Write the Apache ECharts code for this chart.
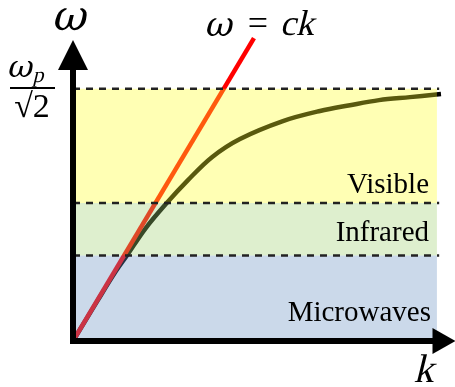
<!DOCTYPE html>
<html>
<head>
<meta charset="utf-8">
<script src="https://cdn.jsdelivr.net/npm/echarts@6/dist/echarts.min.js"></script>
<style>
  html, body { margin: 0; padding: 0; background: #fff; }
  #chart { width: 455px; height: 387px; }
</style>
</head>
<body>
<div id="chart"></div>
<script>
// Frequencies in units of ωp/√2, wavevector in units of ωp/(√2 c)
const bandNames = ['Microwaves', 'Infrared', 'Visible'];
const bandEdges = [0, 0.339, 0.547, 1.0];
const bandColors = ['rgba(106,146,195,0.35)', 'rgba(161,209,115,0.35)', 'rgba(255,255,41,0.35)'];
const bandEndK = 2.415;
const dashEndK = 2.43;

// Light line ω = ck
const lightK = [0, 1.201];

// Surface plasmon dispersion branch
const sppK = [0, 0.162, 0.285, 0.358, 0.478, 0.622, 0.763, 0.922, 1.108, 1.393, 1.639, 1.838, 2.031, 2.236, 2.442];
const sppW = [0, 0.159, 0.277, 0.339, 0.444, 0.547, 0.638, 0.729, 0.801, 0.872, 0.912, 0.935, 0.955, 0.967, 0.979];

const K_MAX = 2.462;
const W_MAX = 1.134;

const serif = '"Liberation Serif", "DejaVu Serif", serif';
const greek = '"DejaVu Serif", serif';

const chart = echarts.init(document.getElementById('chart'), null, { renderer: 'canvas' });

const bandData = bandNames.map((n, i) => [bandEdges[i], bandEdges[i + 1], i]);

const dashSeries = bandEdges.slice(1).map(w => ({
  type: 'line',
  z: 4,
  silent: true,
  symbol: 'none',
  data: [[0, w], [dashEndK, w]],
  lineStyle: { color: '#222', width: 2.5, type: [7, 6] }
}));

const axisLineStyle = { color: '#000', width: 6, cap: 'square' };

// Serif text; slanted symbols are sheared upright glyphs
function txt(text, x, y, size, slanted, align, family) {
  return {
    type: 'text', z: 20, x: x, y: y,
    skewX: slanted ? -0.24 : 0,
    style: {
      text: text, x: 0, y: 0,
      fontFamily: family || serif, fontSize: size,
      fill: '#000', textAlign: align || 'center', textVerticalAlign: 'middle'
    }
  };
}

chart.setOption({
  animation: false,
  grid: { left: 73, right: 11, top: 55, bottom: 46 },
  xAxis: {
    type: 'value', min: 0, max: K_MAX, z: 10,
    axisLine: { show: true, symbol: ['none', 'triangle'], symbolSize: [26, 23], lineStyle: axisLineStyle },
    axisTick: { show: false }, axisLabel: { show: false }, splitLine: { show: false }
  },
  yAxis: {
    type: 'value', min: 0, max: W_MAX, z: 10,
    axisLine: { show: true, symbol: ['none', 'triangle'], symbolSize: [30, 30], lineStyle: axisLineStyle },
    axisTick: { show: false }, axisLabel: { show: false }, splitLine: { show: false }
  },
  series: [
    {
      type: 'line',
      z: 2,
      symbol: 'none',
      smooth: 0.35,
      clip: false,
      data: sppK.map((k, i) => [k, sppW[i]]),
      lineStyle: { color: '#000', width: 4.5 }
    },
    {
      type: 'line',
      z: 2,
      symbol: 'none',
      clip: false,
      data: lightK.map(k => [k, k]),
      lineStyle: { color: '#ff0000', width: 4.5 }
    },
    {
      type: 'custom',
      z: 3,
      silent: true,
      data: bandData,
      renderItem: (params, api) => {
        const p0 = api.coord([0, api.value(0)]);
        const p1 = api.coord([bandEndK, api.value(1)]);
        return {
          type: 'rect',
          shape: { x: p0[0], y: p1[1], width: p1[0] - p0[0], height: p0[1] - p1[1] },
          style: { fill: bandColors[api.value(2)] }
        };
      }
    },
    ...dashSeries
  ],
  graphic: [
    txt('Visible', 429, 185, 29, false, 'right'),
    txt('Infrared', 429, 233, 29, false, 'right'),
    txt('Microwaves', 431, 313, 29, false, 'right'),
    txt('ω', 71, 19, 42, true, 'center', greek),
    txt('k', 426, 371, 40, true),
    txt('ω', 220, 27, 34, true, 'center', greek),
    txt('=', 258, 26, 36, false),
    txt('ck', 299, 26, 36, true),
    txt('ω', 21, 69, 31, true, 'center', greek),
    txt('p', 34, 76, 22, true, 'left'),
    { type: 'line', z: 20, shape: { x1: 10, y1: 88, x2: 55, y2: 88 }, style: { stroke: '#000', lineWidth: 2 } },
    txt('√2', 32, 108, 34, false)
  ]
});
</script>
</body>
</html>
